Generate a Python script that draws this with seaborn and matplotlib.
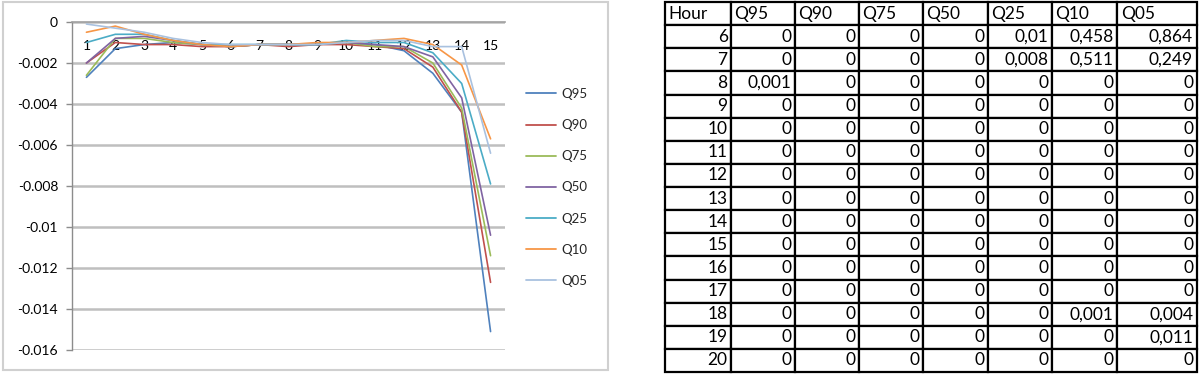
import numpy as np
import pandas as pd
import matplotlib
matplotlib.use("Agg")
import matplotlib.pyplot as plt
import seaborn as sns
from matplotlib.patches import Rectangle
from matplotlib.ticker import FuncFormatter, FixedLocator

# ---------------- data ----------------
steps = list(range(1, 16))
series_names = ["Q95", "Q90", "Q75", "Q50", "Q25", "Q10", "Q05"]
q95 = [-0.0027, -0.0013, -0.0011, -0.0010, -0.0011, -0.0012, -0.0011, -0.0011, -0.0011, -0.0010, -0.0011, -0.0014, -0.0025, -0.0044, -0.0151]
q90 = [-0.0020, -0.0010, -0.0011, -0.0011, -0.0012, -0.0012, -0.0011, -0.0012, -0.0011, -0.0011, -0.0012, -0.0013, -0.0022, -0.0044, -0.0127]
q75 = [-0.0026, -0.0008, -0.0008, -0.0010, -0.0011, -0.0012, -0.0011, -0.0011, -0.0011, -0.0010, -0.0012, -0.0012, -0.0020, -0.0042, -0.0114]
q50 = [-0.0020, -0.0008, -0.0007, -0.0009, -0.0011, -0.0012, -0.0011, -0.0011, -0.0011, -0.0010, -0.0011, -0.0012, -0.0017, -0.0037, -0.0104]
q25 = [-0.0010, -0.0006, -0.0006, -0.0009, -0.0011, -0.0011, -0.0011, -0.0011, -0.0011, -0.0009, -0.0010, -0.0010, -0.0015, -0.0030, -0.0079]
q10 = [-0.0005, -0.0002, -0.0006, -0.0009, -0.0011, -0.0012, -0.0011, -0.0011, -0.0010, -0.0010, -0.0009, -0.0008, -0.0011, -0.0021, -0.0057]
q05 = [-0.0001, -0.0003, -0.0005, -0.0008, -0.0010, -0.0011, -0.0011, -0.0011, -0.0011, -0.0010, -0.0009, -0.0009, -0.0012, -0.0012, -0.0064]
y_ticks = [0, -0.002, -0.004, -0.006, -0.008, -0.01, -0.012, -0.014, -0.016]

# table data
table_header = ["Hour", "Q95", "Q90", "Q75", "Q50", "Q25", "Q10", "Q05"]
hours = list(range(6, 21))
t_q95 = [0, 0, 0.001, 0, 0, 0, 0, 0, 0, 0, 0, 0, 0, 0, 0]
t_q90 = [0] * 15
t_q75 = [0] * 15
t_q50 = [0] * 15
t_q25 = [0.01, 0.008, 0, 0, 0, 0, 0, 0, 0, 0, 0, 0, 0, 0, 0]
t_q10 = [0.458, 0.511, 0, 0, 0, 0, 0, 0, 0, 0, 0, 0, 0.001, 0, 0]
t_q05 = [0.864, 0.249, 0, 0, 0, 0, 0, 0, 0, 0, 0, 0, 0.004, 0.011, 0]

colors = ["#4F81BD", "#C0504D", "#9BBB59", "#8064A2", "#4BACC6", "#F79646", "#A9C1DF"]

# ---------------- figure ----------------
sns.set_theme(style="white")
plt.rcParams["font.family"] = ["Lato", "DejaVu Sans"]

W, H = 1200, 374
fig = plt.figure(figsize=(W / 100, H / 100), dpi=100)
fig.patch.set_facecolor("white")

def fx(px):
    return px / W

def fy(py):
    return (H - py) / H

# chart-area border
fig.add_artist(Rectangle((fx(3), fy(370)), fx(608) - fx(3), fy(2) - fy(370),
                         transform=fig.transFigure, fill=False,
                         edgecolor="#D0D0D0", linewidth=1.5))

ax = fig.add_axes([fx(72), fy(350), fx(505) - fx(72), fy(22) - fy(350)])

vals = [q95, q90, q75, q50, q25, q10, q05]
df = pd.DataFrame({
    "step": np.tile(steps, len(series_names)),
    "value": np.concatenate(vals),
    "series": np.repeat(series_names, len(steps)),
})
palette = dict(zip(series_names, colors))
sns.lineplot(data=df, x="step", y="value", hue="series", hue_order=series_names,
             palette=palette, linewidth=1.2, ax=ax, legend=False, sort=False)

ax.set_xlim(0.5, 15.5)
ax.set_ylim(-0.016, 0)
ax.set_xlabel("")
ax.set_ylabel("")
ax.set_yticks(y_ticks)
ax.yaxis.set_major_formatter(FuncFormatter(lambda v, p: "0" if abs(v) < 1e-12 else f"{v:g}"))
ax.grid(axis="y", color="#BFBFBF", linewidth=1.8)
ax.set_axisbelow(True)
for s in ["top", "right"]:
    ax.spines[s].set_visible(False)
ax.spines["left"].set_color("#8C8C8C")
ax.spines["left"].set_linewidth(1.0)
ax.spines["bottom"].set_position(("data", 0))
ax.spines["bottom"].set_color("#A0A0A0")
ax.spines["bottom"].set_linewidth(1.2)
ax.set_xticks(steps)
ax.set_xticklabels([str(s) for s in steps])
ax.xaxis.set_minor_locator(FixedLocator([s + 0.5 for s in range(0, 16)]))
ax.tick_params(axis="x", which="major", length=0, pad=13, labelsize=10, labelcolor="black")
ax.tick_params(axis="x", which="minor", length=4, width=1, color="#A0A0A0", direction="out")
ax.tick_params(axis="y", which="major", length=4, width=1, color="#8C8C8C", direction="out",
               labelsize=10, labelcolor="black", left=True, pad=6)

handles = [plt.Line2D([0], [0], color=c, lw=1.3) for c in colors]
fig.legend(handles, series_names, loc="upper left", bbox_to_anchor=(fx(526), fy(88)),
           frameon=False, fontsize=9.5, handlelength=2.3, handletextpad=0.35,
           labelspacing=1.45, borderpad=0, borderaxespad=0)

# ---------------- table ----------------
tax = fig.add_axes([fx(665), fy(372), fx(1197) - fx(665), fy(2) - fy(372)])
tax.axis("off")

def fmt(v):
    return "0" if v == 0 else f"{v:g}".replace(".", ",")

cols = [t_q95, t_q90, t_q75, t_q50, t_q25, t_q10, t_q05]
cell_text = [table_header]
for i, h in enumerate(hours):
    cell_text.append([str(h)] + [fmt(c[i]) for c in cols])

col_px = [66, 64, 64, 64, 65, 64, 65, 80]
tot = float(sum(col_px))
col_w = [c / tot for c in col_px]

tbl = tax.table(cellText=cell_text, colWidths=col_w, bbox=[0, 0, 1, 1], cellLoc="right")
tbl.auto_set_font_size(False)
tbl.set_fontsize(12.5)
for (r, c), cell in tbl.get_celld().items():
    cell.set_edgecolor("black")
    cell.set_linewidth(1.6)
    cell.set_facecolor("white")
    cell.PAD = 0.05
    cell.get_text().set_color("black")
    if r == 0:
        cell.get_text().set_horizontalalignment("left")
        cell._loc = "left"

fig.savefig("out.png", dpi=100, facecolor="white")
